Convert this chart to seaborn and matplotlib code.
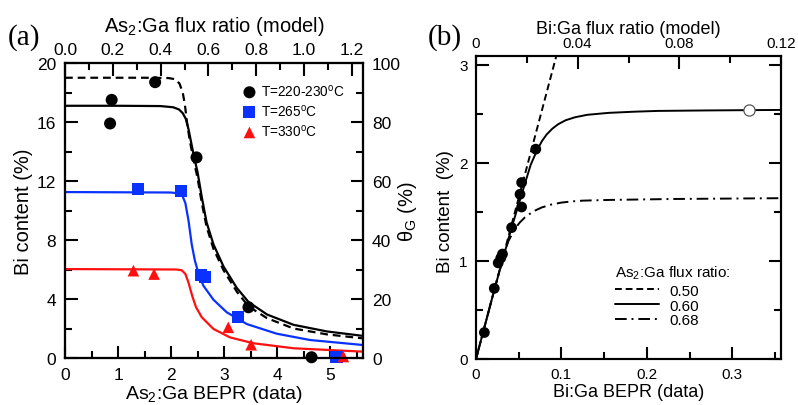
import numpy as np
import pandas as pd
import matplotlib
matplotlib.use("Agg")
import matplotlib.pyplot as plt
import seaborn as sns
from matplotlib.ticker import MultipleLocator, FuncFormatter

# ---------------- Panel (a) data ----------------
a_pts_220_x = [0.88, 0.85, 1.70, 2.48, 3.46, 4.65]
a_pts_220_y = [17.5, 15.9, 18.7, 13.6, 3.44, 0.05]
a_pts_265_x = [1.37, 2.18, 2.56, 2.64, 3.27, 5.12]
a_pts_265_y = [11.46, 11.35, 5.63, 5.47, 2.76, 0.1]
a_pts_330_x = [1.29, 1.68, 3.08, 3.51, 5.25]
a_pts_330_y = [5.92, 5.69, 2.08, 0.9, 0.1]

a_solid_x = [0, 1.0, 1.8, 2.04, 2.15, 2.22, 2.28, 2.33, 2.38, 2.43, 2.50, 2.58, 2.67, 2.80, 2.99, 3.24, 3.46, 3.81, 4.31, 4.94, 5.62]
a_solid_y = [17.1, 17.1, 17.08, 17.0, 16.85, 16.6, 16.2, 15.5, 14.6, 13.7, 12.6, 10.9, 9.2, 7.7, 6.2, 4.75, 3.8, 2.95, 2.25, 1.8, 1.5]
a_dash_x = [0, 1.5, 1.95, 2.08, 2.16, 2.22, 2.26, 2.30, 2.35, 2.42, 2.50, 2.58, 2.67, 2.80, 2.99, 3.24, 3.46, 3.81, 4.31, 4.94, 5.62]
a_dash_y = [19.0, 19.0, 18.98, 18.9, 18.6, 18.0, 17.2, 16.0, 14.8, 13.5, 12.2, 10.5, 8.9, 7.4, 5.95, 4.5, 3.5, 2.7, 2.0, 1.6, 1.33]
a_blue_x = [0, 2.0, 2.15, 2.22, 2.27, 2.33, 2.39, 2.45, 2.52, 2.61, 2.80, 3.05, 3.43, 3.99, 4.62, 5.62]
a_blue_y = [11.25, 11.22, 11.15, 10.95, 10.5, 9.3, 7.7, 6.6, 5.7, 4.9, 3.95, 3.1, 2.3, 1.65, 1.22, 0.88]
a_red_x = [0, 2.1, 2.2, 2.27, 2.33, 2.40, 2.47, 2.58, 2.80, 3.11, 3.55, 4.31, 5.62]
a_red_y = [6.03, 6.0, 5.95, 5.7, 5.1, 4.2, 3.45, 2.76, 1.97, 1.40, 1.0, 0.66, 0.43]

a_legend_labels = ["T=220-230$^\\mathrm{o}$C", "T=265$^\\mathrm{o}$C", "T=330$^\\mathrm{o}$C"]

# ---------------- Panel (b) data ----------------
b_pts_x = [0.0098, 0.0214, 0.026, 0.029, 0.031, 0.0417, 0.0515, 0.0534, 0.0534, 0.070]
b_pts_y = [0.27, 0.72, 0.98, 1.03, 1.07, 1.34, 1.68, 1.55, 1.80, 2.14]
b_open_x = [0.319]
b_open_y = [2.54]

b_050_x = [0.0, 0.094]
b_050_y = [0.0, 3.09]
b_060_x = [0.0, 0.0222, 0.0417, 0.0573, 0.064, 0.071, 0.077, 0.0827, 0.0895, 0.0963, 0.105, 0.1158, 0.13, 0.155, 0.185, 0.213, 0.272, 0.357]
b_060_y = [0.0, 0.73, 1.34, 1.79, 1.98, 2.12, 2.22, 2.29, 2.35, 2.395, 2.435, 2.465, 2.49, 2.51, 2.522, 2.53, 2.535, 2.54]
b_068_x = [0.0, 0.0222, 0.034, 0.0378, 0.045, 0.051, 0.0573, 0.067, 0.0768, 0.088, 0.100, 0.112, 0.125, 0.155, 0.233, 0.357]
b_068_y = [0.0, 0.73, 1.10, 1.20, 1.32, 1.39, 1.445, 1.505, 1.545, 1.575, 1.595, 1.607, 1.615, 1.622, 1.632, 1.64]
b_legend_labels = ["0.50", "0.60", "0.68"]

sns.set_theme(style="ticks")
plt.rcParams['font.family'] = ['Liberation Sans', 'DejaVu Sans']
plt.rcParams['mathtext.fontset'] = 'custom'
plt.rcParams['mathtext.rm'] = 'Liberation Sans'
plt.rcParams['mathtext.it'] = 'Liberation Sans:italic'
plt.rcParams['axes.edgecolor'] = 'black'
plt.rcParams['axes.linewidth'] = 1.5
plt.rcParams['xtick.color'] = 'black'
plt.rcParams['ytick.color'] = 'black'
plt.rcParams['text.color'] = 'black'
plt.rcParams['axes.labelcolor'] = 'black'

BLUE = '#0a32ff'
RED = '#ff1010'

fig = plt.figure(figsize=(7.98, 4.06), dpi=100)
axA = fig.add_axes([65/798, 47/406, 298/798, 295/406])
axB = fig.add_axes([476/798, 46/406, 305/798, 303/406])

def style_ticks(ax, labelsize, pad):
    ax.tick_params(which='both', direction='in', width=1.5, labelsize=labelsize, pad=pad)
    ax.tick_params(which='major', length=9)
    ax.tick_params(which='minor', length=5)

# ---------- Panel (a) ----------
lw = 1.6
sns.lineplot(x=a_dash_x, y=a_dash_y, ax=axA, color='black', lw=lw, sort=False, estimator=None,
             linestyle=(0, (3.5, 2.2)))
sns.lineplot(x=a_solid_x, y=a_solid_y, ax=axA, color='black', lw=lw, sort=False, estimator=None)
sns.lineplot(x=a_blue_x, y=a_blue_y, ax=axA, color=BLUE, lw=lw, sort=False, estimator=None)
sns.lineplot(x=a_red_x, y=a_red_y, ax=axA, color=RED, lw=lw, sort=False, estimator=None)

sns.scatterplot(x=a_pts_220_x, y=a_pts_220_y, ax=axA, color='black', marker='o', s=75,
                edgecolor='none', clip_on=False, zorder=5, label=a_legend_labels[0])
sns.scatterplot(x=a_pts_265_x, y=a_pts_265_y, ax=axA, color=BLUE, marker='s', s=75,
                edgecolor='none', clip_on=False, zorder=5, label=a_legend_labels[1])
sns.scatterplot(x=a_pts_330_x, y=a_pts_330_y, ax=axA, color=RED, marker='^', s=70,
                edgecolor='none', clip_on=False, zorder=5, label=a_legend_labels[2])

axA.set_xlim(0, 5.62)
axA.set_ylim(0, 20)
axA.xaxis.set_major_locator(MultipleLocator(1))
axA.xaxis.set_minor_locator(MultipleLocator(0.5))
axA.yaxis.set_major_locator(MultipleLocator(4))
axA.yaxis.set_minor_locator(MultipleLocator(2))
style_ticks(axA, 12.5, 6.5)
axA.set_xlabel("As$_2$:Ga BEPR (data)", fontsize=14)
axA.set_ylabel("Bi content (%)", fontsize=14.5)
axA.xaxis.set_label_coords(0.5, -0.086)
axA.yaxis.set_label_coords(-0.108, 0.5)

leg = axA.legend(loc='upper left', bbox_to_anchor=(0.555, 0.965), frameon=False, fontsize=9.8,
                 handletextpad=0.15, labelspacing=0.3, handlelength=1.4, borderpad=0.2)

axAT = axA.twiny()
axAT.set_xlim(0, 1.246)
axAT.xaxis.set_major_locator(MultipleLocator(0.2))
axAT.xaxis.set_minor_locator(MultipleLocator(0.1))
axAT.xaxis.set_major_formatter(FuncFormatter(lambda v, p: f"{v:.1f}"))
style_ticks(axAT, 12.5, 4)
axAT.set_xlabel("As$_2$:Ga flux ratio (model)", fontsize=14.5)
axAT.xaxis.set_label_coords(0.5, 1.108)

axAR = axA.twinx()
axAR.set_ylim(0, 100)
axAR.yaxis.set_major_locator(MultipleLocator(20))
axAR.yaxis.set_minor_locator(MultipleLocator(10))
style_ticks(axAR, 12.5, 6.5)
axAR.set_ylabel("θ$_\\mathrm{G}$ (%)", fontsize=14.5)
axAR.yaxis.set_label_coords(1.11, 0.5)

# ---------- Panel (b) ----------
lwb = 1.4
sns.lineplot(x=b_050_x, y=b_050_y, ax=axB, color='black', lw=lwb, sort=False, estimator=None,
             linestyle=(0, (3.5, 2)), label=b_legend_labels[0])
sns.lineplot(x=b_060_x, y=b_060_y, ax=axB, color='black', lw=lwb, sort=False, estimator=None,
             label=b_legend_labels[1])
sns.lineplot(x=b_068_x, y=b_068_y, ax=axB, color='black', lw=lwb, sort=False, estimator=None,
             linestyle=(0, (6, 2.5, 1, 2.5)), label=b_legend_labels[2])
sns.scatterplot(x=b_pts_x, y=b_pts_y, ax=axB, color='black', marker='o', s=60,
                edgecolor='none', zorder=5, legend=False)
sns.scatterplot(x=b_open_x, y=b_open_y, ax=axB, color='white', marker='o', s=65,
                edgecolor='#555555', linewidth=0.9, zorder=5, legend=False)

axB.set_xlim(0, 0.357)
axB.set_ylim(0, 3.09)
axB.xaxis.set_major_locator(MultipleLocator(0.1))
axB.xaxis.set_minor_locator(MultipleLocator(0.05))
axB.yaxis.set_major_locator(MultipleLocator(1))
axB.yaxis.set_minor_locator(MultipleLocator(0.5))
axB.xaxis.set_major_formatter(FuncFormatter(lambda v, p: "0" if abs(v) < 1e-9 else f"{v:.1f}"))
style_ticks(axB, 11, 6)
axB.tick_params(which='both', right=True, labelright=False)
axB.set_xlabel("Bi:Ga BEPR (data)", fontsize=13)
axB.set_ylabel("Bi content  (%)", fontsize=13.5)
axB.xaxis.set_label_coords(0.5, -0.08)
axB.yaxis.set_label_coords(-0.072, 0.49)

legB = axB.legend(loc='upper left', bbox_to_anchor=(0.42, 0.35), frameon=False, fontsize=11,
                  title="As$_2$:Ga flux ratio:", title_fontsize=11, alignment='left',
                  handlelength=2.9, handletextpad=0.7, labelspacing=0.05, borderpad=0.2)
legB._legend_box.sep = 2

axBT = axB.twiny()
axBT.set_xlim(0, 0.12)
axBT.xaxis.set_major_locator(MultipleLocator(0.04))
axBT.xaxis.set_minor_locator(MultipleLocator(0.02))
axBT.xaxis.set_major_formatter(FuncFormatter(lambda v, p: "0" if abs(v) < 1e-9 else f"{v:.2f}"))
style_ticks(axBT, 11, 4)
axBT.set_xlabel("Bi:Ga flux ratio (model)", fontsize=13)
axBT.xaxis.set_label_coords(0.5, 1.077)

for ax in (axA, axAT, axAR, axB, axBT):
    for s in ax.spines.values():
        s.set_linewidth(1.5)
        s.set_color('black')

fig.text(8/798, 1 - 38/406, "(a)", family=['Liberation Serif', 'DejaVu Serif'], fontsize=21, va='center', ha='left')
fig.text(428/798, 1 - 38/406, "(b)", family=['Liberation Serif', 'DejaVu Serif'], fontsize=21, va='center', ha='left')

fig.savefig("out.png", dpi=100)
